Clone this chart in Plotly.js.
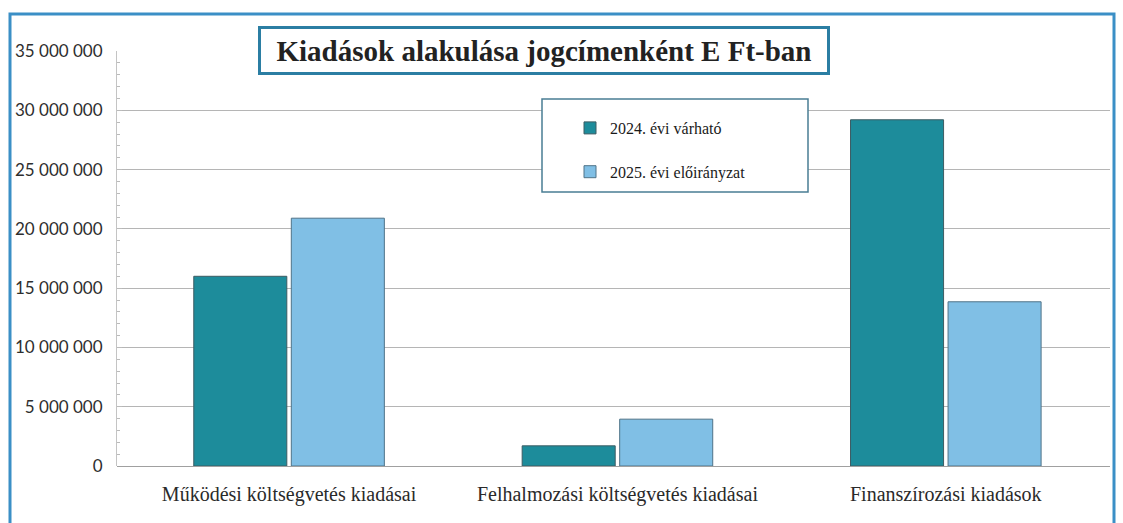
<!DOCTYPE html>
<html>
<head>
<meta charset="utf-8">
<script src="https://cdn.plot.ly/plotly-3.0.1.min.js"></script>
<style>html,body{margin:0;padding:0;background:#fff;}#chart{width:1123px;height:523px;}</style>
</head>
<body>
<div id="chart"></div>
<script>
const categories = ["Működési költségvetés kiadásai", "Felhalmozási költségvetés kiadásai", "Finanszírozási kiadások"];
const seriesNames = ["2024. évi várható", "2025. évi előirányzat"];
const values2024 = [16000000, 1700000, 29200000];
const values2025 = [20900000, 3950000, 13850000];
const yTicks = [0, 5000000, 10000000, 15000000, 20000000, 25000000, 30000000, 35000000];

const L = 117, R = 13, T = 51, B = 57, W = 1123, H = 523;
const pw = W - L - R, ph = H - T - B;
const px = v => (v - L) / pw;
const py = v => (H - B - v) / ph;

const traces = [
  {type: 'bar', x: categories, y: values2024, name: seriesNames[0], legendgroup: 'a',
   marker: {color: '#1d8c9b', line: {color: '#3d5c63', width: 1}}},
  {type: 'bar', x: categories, y: values2025, name: seriesNames[1], legendgroup: 'b',
   marker: {color: '#80bfe5', line: {color: '#4f7388', width: 1}}}
];

const layout = {
  width: W, height: H,
  margin: {l: L, r: R, t: T, b: B},
  paper_bgcolor: '#fff', plot_bgcolor: '#fff',
  separators: ', ',
  barmode: 'group', bargap: 0.406, bargroupgap: 0.046,
  showlegend: true,
  legend: {x: px(570), y: py(111), xanchor: 'left', yanchor: 'top',
           bgcolor: 'rgba(0,0,0,0)', borderwidth: 0, tracegroupgap: 20,
           font: {family: 'Liberation Serif', size: 16, color: '#1a1a1a'},
           itemwidth: 30},
  xaxis: {type: 'category', range: [-0.524, 2.5], showgrid: false, zeroline: false,
          showline: false, ticks: '', ticklabelstandoff: 14,
          tickfont: {family: 'Liberation Serif', size: 20, color: '#2a2a2a'}},
  yaxis: {range: [0, 35000000], tickvals: yTicks, tickformat: ',d',
          showgrid: true, gridcolor: '#b5b5b5', gridwidth: 1, zeroline: true, zerolinecolor: '#a0a0a0',
          showline: true, linecolor: '#c4c4c4', ticks: 'inside', ticklen: 5, tickcolor: '#bbb',
          minor: {dtick: 1000000, ticks: 'inside', ticklen: 3, tickcolor: '#bbb', showgrid: false},
          tickfont: {family: 'Lato', size: 17, color: '#2e2e2e'}, ticklabelstandoff: 10},
  shapes: [
    {type: 'rect', xref: 'paper', yref: 'paper', x0: px(10), x1: px(1114), y0: py(540), y1: py(14),
     line: {color: '#3b8fc6', width: 3}, fillcolor: 'rgba(0,0,0,0)', layer: 'below'},
    {type: 'rect', xref: 'paper', yref: 'paper', x0: px(542), x1: px(808), y0: py(192), y1: py(99),
     line: {color: '#4a7d94', width: 1.5}, fillcolor: '#fff', layer: 'above'}
  ],
  annotations: [
    {xref: 'paper', yref: 'paper', x: px(544), y: py(50.5), xanchor: 'center', yanchor: 'middle',
     text: '<b>Kiadások alakulása jogcímenként E Ft-ban</b>', showarrow: false,
     font: {family: 'Liberation Serif', size: 29, color: '#222'},
     width: 558, height: 35,
     bgcolor: '#fff', bordercolor: '#2b7ea3', borderwidth: 3, borderpad: 4}
  ]
};

Plotly.newPlot('chart', traces, layout, {displayModeBar: false, staticPlot: true});
</script>
</body>
</html>
